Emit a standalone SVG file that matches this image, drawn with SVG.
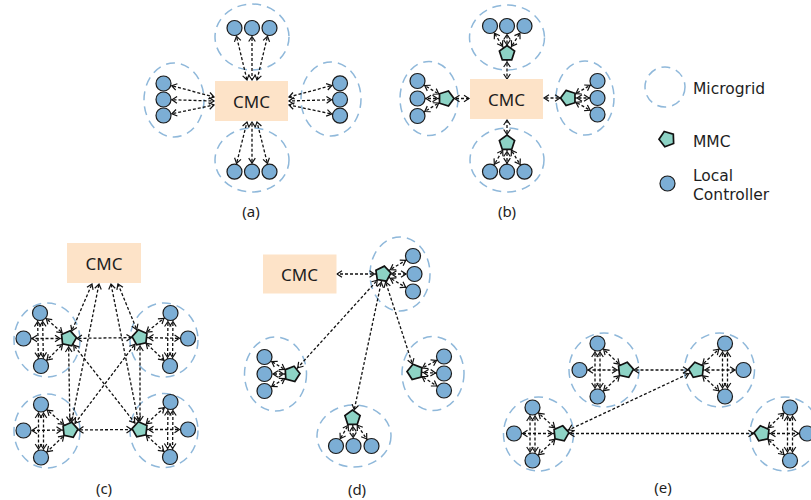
<svg xmlns="http://www.w3.org/2000/svg" width="811" height="500" viewBox="0 0 811 500">
<style>
.mg{fill:none;stroke:#8fb8da;stroke-width:1.5;stroke-dasharray:9 6}
.lc{fill:#7caed5;stroke:#1b1b1b;stroke-width:1.2}
.mmc{fill:#8dd3c5;stroke:#111;stroke-width:1.7;stroke-linejoin:miter}
.cmc{fill:#fde3c8}
.ln{fill:none;stroke:#111;stroke-width:1.3;stroke-dasharray:3 2;marker-start:url(#a);marker-end:url(#a)}
.ln.e0{marker-end:url(#b)}
text{font-family:"Noto Sans","Open Sans","DejaVu Sans",sans-serif;fill:#1e1e1e}
.t{font-size:17px;text-anchor:middle;dominant-baseline:central}
.cap{font-size:15px;text-anchor:middle}
.lg{font-family:"DejaVu Sans","Noto Sans",sans-serif;font-size:15.5px}
</style>
<defs>
  <!-- open arrowhead, tip held back from the node centre -->
  <marker id="a" markerUnits="userSpaceOnUse" viewBox="-14 -7 28 14" markerWidth="28" markerHeight="14" refX="8.5" refY="0" orient="auto-start-reverse">
    <path d="M-5,-3.3 L0,0 L-5,3.3" fill="none" stroke="#111" stroke-width="1.2"/>
  </marker>
  <!-- open arrowhead, tip at the line end (box edges) -->
  <marker id="b" markerUnits="userSpaceOnUse" viewBox="-14 -7 28 14" markerWidth="28" markerHeight="14" refX="0" refY="0" orient="auto-start-reverse">
    <path d="M-5,-3.3 L0,0 L-5,3.3" fill="none" stroke="#111" stroke-width="1.2"/>
  </marker>
  <polygon id="pg" points="0,-8 7.61,-2.47 4.70,6.47 -4.70,6.47 -7.61,-2.47"/>
</defs>

<!-- microgrid boundaries -->
<g id="microgrids">
  <ellipse id="mg-a-top" class="mg" cx="252" cy="37" rx="37" ry="33"/>
  <ellipse id="mg-a-left" class="mg" cx="174" cy="100" rx="30" ry="37"/>
  <ellipse id="mg-a-right" class="mg" cx="331" cy="99" rx="30" ry="37"/>
  <ellipse id="mg-a-bottom" class="mg" cx="252" cy="160" rx="37" ry="32"/>

  <ellipse id="mg-b-top" class="mg" cx="507" cy="37.5" rx="37.5" ry="32.5"/>
  <ellipse id="mg-b-left" class="mg" cx="429" cy="98.5" rx="29" ry="37"/>
  <ellipse id="mg-b-right" class="mg" cx="585" cy="98" rx="29" ry="37"/>
  <ellipse id="mg-b-bottom" class="mg" cx="507" cy="160" rx="37" ry="32"/>

  <ellipse id="mg-c-tl" class="mg" cx="47" cy="340" rx="33" ry="37"/>
  <ellipse id="mg-c-tr" class="mg" cx="164" cy="340" rx="34" ry="37"/>
  <ellipse id="mg-c-bl" class="mg" cx="47" cy="431" rx="33" ry="37"/>
  <ellipse id="mg-c-br" class="mg" cx="164" cy="430.5" rx="34" ry="37"/>

  <ellipse id="mg-d-top" class="mg" cx="400" cy="274" rx="30" ry="37"/>
  <ellipse id="mg-d-left" class="mg" cx="275.5" cy="374" rx="31" ry="37"/>
  <ellipse id="mg-d-right" class="mg" cx="433" cy="373.5" rx="31" ry="37"/>
  <ellipse id="mg-d-bottom" class="mg" cx="354" cy="436" rx="37" ry="31"/>

  <ellipse id="mg-e-tl" class="mg" cx="604" cy="370" rx="35" ry="37"/>
  <ellipse id="mg-e-tr" class="mg" cx="719.5" cy="370" rx="35" ry="37"/>
  <ellipse id="mg-e-bl" class="mg" cx="538.5" cy="434" rx="35" ry="37"/>
  <ellipse id="mg-e-br" class="mg" cx="785" cy="434" rx="35" ry="37"/>

  <circle id="mg-legend" class="mg" cx="665" cy="87" r="20"/>
</g>

<g id="connectors">
  <!-- (a) centralised -->
  <line class="ln e0" x1="234.5" y1="28" x2="247" y2="80"/>
  <line class="ln e0" x1="252" y1="28" x2="252" y2="80"/>
  <line class="ln e0" x1="269.5" y1="28" x2="257" y2="80"/>
  <line class="ln e0" x1="163.5" y1="83.5" x2="214" y2="97"/>
  <line class="ln e0" x1="163.5" y1="99.5" x2="214" y2="101"/>
  <line class="ln e0" x1="163.5" y1="115.5" x2="214" y2="105"/>
  <line class="ln e0" x1="340" y1="83.3" x2="289" y2="97"/>
  <line class="ln e0" x1="340" y1="99.5" x2="289" y2="101"/>
  <line class="ln e0" x1="340" y1="115.7" x2="289" y2="105"/>
  <line class="ln e0" x1="234.5" y1="171.7" x2="247" y2="122"/>
  <line class="ln e0" x1="252" y1="171.7" x2="252" y2="122"/>
  <line class="ln e0" x1="269.5" y1="171.7" x2="257" y2="122"/>

  <!-- (b) hierarchical -->
  <line class="ln" x1="507" y1="53.5" x2="490" y2="26"/>
  <line class="ln" x1="507" y1="53.5" x2="507" y2="26"/>
  <line class="ln" x1="507" y1="53.5" x2="524.5" y2="26"/>
  <line class="ln e0" x1="507" y1="53.5" x2="507" y2="79"/>
  <line class="ln" x1="446" y1="98.5" x2="417.5" y2="81"/>
  <line class="ln" x1="446" y1="98.5" x2="417.5" y2="98.5"/>
  <line class="ln" x1="446" y1="98.5" x2="417.5" y2="116"/>
  <line class="ln e0" x1="446" y1="98.5" x2="469" y2="98.5"/>
  <line class="ln" x1="568.5" y1="98" x2="597.5" y2="81"/>
  <line class="ln" x1="568.5" y1="98" x2="597.5" y2="98"/>
  <line class="ln" x1="568.5" y1="98" x2="597.5" y2="114.5"/>
  <line class="ln e0" x1="568.5" y1="98" x2="544" y2="98"/>
  <line class="ln" x1="507" y1="143" x2="490" y2="171.7"/>
  <line class="ln" x1="507" y1="143" x2="507" y2="171.7"/>
  <line class="ln" x1="507" y1="143" x2="524.5" y2="171.7"/>
  <line class="ln e0" x1="507" y1="143" x2="507" y2="120"/>

  <!-- (c) inside each microgrid -->
  <line class="ln" x1="68.5" y1="338.5" x2="40" y2="313"/>
  <line class="ln" x1="68.5" y1="338.5" x2="23.5" y2="338.5"/>
  <line class="ln" x1="68.5" y1="338.5" x2="41" y2="366"/>
  <line class="ln" x1="37.5" y1="313" x2="38.5" y2="366"/>
  <line class="ln" x1="42.5" y1="313" x2="43.5" y2="366"/>
  <line class="ln" x1="140" y1="337.5" x2="170.5" y2="313"/>
  <line class="ln" x1="140" y1="337.5" x2="188" y2="338.5"/>
  <line class="ln" x1="140" y1="337.5" x2="170" y2="366"/>
  <line class="ln" x1="168" y1="313" x2="167.5" y2="366"/>
  <line class="ln" x1="173" y1="313" x2="172.5" y2="366"/>
  <line class="ln" x1="70" y1="430" x2="41" y2="404.5"/>
  <line class="ln" x1="70" y1="430" x2="23.5" y2="430.5"/>
  <line class="ln" x1="70" y1="430" x2="41" y2="457.5"/>
  <line class="ln" x1="38.5" y1="404.5" x2="38.5" y2="457.5"/>
  <line class="ln" x1="43.5" y1="404.5" x2="43.5" y2="457.5"/>
  <line class="ln" x1="140" y1="429.5" x2="170.5" y2="402"/>
  <line class="ln" x1="140" y1="429.5" x2="188" y2="429.5"/>
  <line class="ln" x1="140" y1="429.5" x2="170" y2="457"/>
  <line class="ln" x1="168" y1="402" x2="167.5" y2="457"/>
  <line class="ln" x1="173" y1="402" x2="172.5" y2="457"/>
  <!-- (c) between MMCs and to the CMC -->
  <line class="ln" x1="68.5" y1="338.5" x2="140" y2="337.5"/>
  <line class="ln" x1="70" y1="430" x2="140" y2="429.5"/>
  <line class="ln" x1="68.5" y1="338.5" x2="70" y2="430"/>
  <line class="ln" x1="140" y1="337.5" x2="140" y2="429.5"/>
  <line class="ln" x1="68.5" y1="338.5" x2="140" y2="429.5"/>
  <line class="ln" x1="140" y1="337.5" x2="70" y2="430"/>
  <line class="ln e0" x1="68.5" y1="338.5" x2="92" y2="284"/>
  <line class="ln e0" x1="70" y1="430" x2="99" y2="284"/>
  <line class="ln e0" x1="140" y1="429.5" x2="111" y2="284"/>
  <line class="ln e0" x1="140" y1="337.5" x2="118" y2="284"/>

  <!-- (d) -->
  <line class="ln" x1="383" y1="274" x2="413" y2="256"/>
  <line class="ln" x1="383" y1="274" x2="414.5" y2="274"/>
  <line class="ln" x1="383" y1="274" x2="413" y2="291.5"/>
  <line class="ln e0" x1="383" y1="274" x2="337" y2="274"/>
  <line class="ln" x1="292" y1="374" x2="264.5" y2="357"/>
  <line class="ln" x1="292" y1="374" x2="264.5" y2="374"/>
  <line class="ln" x1="292" y1="374" x2="264.5" y2="391"/>
  <line class="ln" x1="415" y1="372" x2="444" y2="356.5"/>
  <line class="ln" x1="415" y1="372" x2="444" y2="373.5"/>
  <line class="ln" x1="415" y1="372" x2="444" y2="390.5"/>
  <line class="ln" x1="352.5" y1="418" x2="336" y2="446"/>
  <line class="ln" x1="352.5" y1="418" x2="353.5" y2="446"/>
  <line class="ln" x1="352.5" y1="418" x2="371.5" y2="446"/>
  <line class="ln" x1="383" y1="274" x2="292" y2="374"/>
  <line class="ln" x1="383" y1="274" x2="352.5" y2="418"/>
  <line class="ln" x1="383" y1="274" x2="415" y2="372"/>

  <!-- (e) inside each microgrid -->
  <line class="ln" x1="625.5" y1="370" x2="597.5" y2="343.5"/>
  <line class="ln" x1="625.5" y1="370" x2="579.5" y2="370"/>
  <line class="ln" x1="625.5" y1="370" x2="597.5" y2="396.5"/>
  <line class="ln" x1="595" y1="343.5" x2="595" y2="396.5"/>
  <line class="ln" x1="600" y1="343.5" x2="600" y2="396.5"/>
  <line class="ln" x1="696.5" y1="370" x2="725" y2="343.5"/>
  <line class="ln" x1="696.5" y1="370" x2="743.5" y2="370"/>
  <line class="ln" x1="696.5" y1="370" x2="725" y2="396.5"/>
  <line class="ln" x1="722.5" y1="343.5" x2="722.5" y2="396.5"/>
  <line class="ln" x1="727.5" y1="343.5" x2="727.5" y2="396.5"/>
  <line class="ln" x1="561" y1="433.5" x2="532.5" y2="407.5"/>
  <line class="ln" x1="561" y1="433.5" x2="514" y2="433.5"/>
  <line class="ln" x1="561" y1="433.5" x2="532.5" y2="460.5"/>
  <line class="ln" x1="530" y1="407.5" x2="530" y2="460.5"/>
  <line class="ln" x1="535" y1="407.5" x2="535" y2="460.5"/>
  <line class="ln" x1="762" y1="433.5" x2="790" y2="407.5"/>
  <line class="ln" x1="762" y1="433.5" x2="807" y2="433.5"/>
  <line class="ln" x1="762" y1="433.5" x2="790" y2="460.5"/>
  <line class="ln" x1="787.5" y1="407.5" x2="787.5" y2="460.5"/>
  <line class="ln" x1="792.5" y1="407.5" x2="792.5" y2="460.5"/>
  <!-- (e) between MMCs -->
  <line class="ln" x1="625.5" y1="370" x2="696.5" y2="370"/>
  <line class="ln" x1="696.5" y1="370" x2="561" y2="433.5"/>
  <line class="ln" x1="561" y1="433.5" x2="762" y2="433.5"/>
</g>

<!-- central microgrid controllers -->
<g id="cmc-a"><rect class="cmc" x="215" y="81" width="73" height="40"/><text class="t" x="251.5" y="101">CMC</text></g>
<g id="cmc-b"><rect class="cmc" x="470" y="79" width="73" height="40"/><text class="t" x="506.5" y="99">CMC</text></g>
<g id="cmc-c"><rect class="cmc" x="67" y="243" width="74" height="40"/><text class="t" x="104" y="263">CMC</text></g>
<g id="cmc-d"><rect class="cmc" x="263" y="254.5" width="73.5" height="39"/><text class="t" x="299.5" y="274">CMC</text></g>

<!-- local controllers -->
<g id="local-controllers">
  <g id="lc-a"><circle class="lc" cx="234.5" cy="28" r="7.5"/><circle class="lc" cx="252" cy="28" r="7.5"/><circle class="lc" cx="269.5" cy="28" r="7.5"/>
    <circle class="lc" cx="163.5" cy="83.5" r="7.5"/><circle class="lc" cx="163.5" cy="99.5" r="7.5"/><circle class="lc" cx="163.5" cy="115.5" r="7.5"/>
    <circle class="lc" cx="340" cy="83.3" r="7.5"/><circle class="lc" cx="340" cy="99.5" r="7.5"/><circle class="lc" cx="340" cy="115.7" r="7.5"/>
    <circle class="lc" cx="234.5" cy="171.7" r="7.5"/><circle class="lc" cx="252" cy="171.7" r="7.5"/><circle class="lc" cx="269.5" cy="171.7" r="7.5"/></g>
  <g id="lc-b"><circle class="lc" cx="490" cy="26" r="7.5"/><circle class="lc" cx="507" cy="26" r="7.5"/><circle class="lc" cx="524.5" cy="26" r="7.5"/>
    <circle class="lc" cx="417.5" cy="81" r="7.5"/><circle class="lc" cx="417.5" cy="98.5" r="7.5"/><circle class="lc" cx="417.5" cy="116" r="7.5"/>
    <circle class="lc" cx="597.5" cy="81" r="7.5"/><circle class="lc" cx="597.5" cy="98" r="7.5"/><circle class="lc" cx="597.5" cy="114.5" r="7.5"/>
    <circle class="lc" cx="490" cy="171.7" r="7.5"/><circle class="lc" cx="507" cy="171.7" r="7.5"/><circle class="lc" cx="524.5" cy="171.7" r="7.5"/></g>
  <g id="lc-c"><circle class="lc" cx="40" cy="313" r="7.5"/><circle class="lc" cx="23.5" cy="338.5" r="7.5"/><circle class="lc" cx="41" cy="366" r="7.5"/>
    <circle class="lc" cx="170.5" cy="313" r="7.5"/><circle class="lc" cx="188" cy="338.5" r="7.5"/><circle class="lc" cx="170" cy="366" r="7.5"/>
    <circle class="lc" cx="41" cy="404.5" r="7.5"/><circle class="lc" cx="23.5" cy="430.5" r="7.5"/><circle class="lc" cx="41" cy="457.5" r="7.5"/>
    <circle class="lc" cx="170.5" cy="402" r="7.5"/><circle class="lc" cx="188" cy="429.5" r="7.5"/><circle class="lc" cx="170" cy="457" r="7.5"/></g>
  <g id="lc-d"><circle class="lc" cx="413" cy="256" r="7.5"/><circle class="lc" cx="414.5" cy="274" r="7.5"/><circle class="lc" cx="413" cy="291.5" r="7.5"/>
    <circle class="lc" cx="264.5" cy="357" r="7.5"/><circle class="lc" cx="264.5" cy="374" r="7.5"/><circle class="lc" cx="264.5" cy="391" r="7.5"/>
    <circle class="lc" cx="444" cy="356.5" r="7.5"/><circle class="lc" cx="444" cy="373.5" r="7.5"/><circle class="lc" cx="444" cy="390.5" r="7.5"/>
    <circle class="lc" cx="336" cy="446" r="7.5"/><circle class="lc" cx="353.5" cy="446" r="7.5"/><circle class="lc" cx="371.5" cy="446" r="7.5"/></g>
  <g id="lc-e"><circle class="lc" cx="597.5" cy="343.5" r="7.5"/><circle class="lc" cx="579.5" cy="370" r="7.5"/><circle class="lc" cx="597.5" cy="396.5" r="7.5"/>
    <circle class="lc" cx="725" cy="343.5" r="7.5"/><circle class="lc" cx="743.5" cy="370" r="7.5"/><circle class="lc" cx="725" cy="396.5" r="7.5"/>
    <circle class="lc" cx="532.5" cy="407.5" r="7.5"/><circle class="lc" cx="514" cy="433.5" r="7.5"/><circle class="lc" cx="532.5" cy="460.5" r="7.5"/>
    <circle class="lc" cx="790" cy="407.5" r="7.5"/><circle class="lc" cx="807" cy="433.5" r="7.5"/><circle class="lc" cx="790" cy="460.5" r="7.5"/></g>
</g>

<!-- microgrid management controllers -->
<g id="mmcs">
  <use id="mmc-b-top" class="mmc" href="#pg" transform="translate(507 53.5)"/>
  <use id="mmc-b-left" class="mmc" href="#pg" transform="translate(446 98.5) rotate(18)"/>
  <use id="mmc-b-right" class="mmc" href="#pg" transform="translate(568.5 98) rotate(-18)"/>
  <use id="mmc-b-bottom" class="mmc" href="#pg" transform="translate(507 143)"/>
  <use id="mmc-c-tl" class="mmc" href="#pg" transform="translate(68.5 338.5) rotate(12)"/>
  <use id="mmc-c-tr" class="mmc" href="#pg" transform="translate(140 337.5) rotate(-12)"/>
  <use id="mmc-c-bl" class="mmc" href="#pg" transform="translate(70 430) rotate(12)"/>
  <use id="mmc-c-br" class="mmc" href="#pg" transform="translate(140 429.5) rotate(-12)"/>
  <use id="mmc-d-top" class="mmc" href="#pg" transform="translate(383 274) rotate(10)"/>
  <use id="mmc-d-left" class="mmc" href="#pg" transform="translate(292 374) rotate(15)"/>
  <use id="mmc-d-right" class="mmc" href="#pg" transform="translate(415 372) rotate(-15)"/>
  <use id="mmc-d-bottom" class="mmc" href="#pg" transform="translate(352.5 418)"/>
  <use id="mmc-e-tl" class="mmc" href="#pg" transform="translate(625.5 370) rotate(12)"/>
  <use id="mmc-e-tr" class="mmc" href="#pg" transform="translate(696.5 370) rotate(-12)"/>
  <use id="mmc-e-bl" class="mmc" href="#pg" transform="translate(561 433.5) rotate(12)"/>
  <use id="mmc-e-br" class="mmc" href="#pg" transform="translate(762 433.5) rotate(-12)"/>
</g>

<!-- legend -->
<g id="legend">
  <text class="lg" x="693" y="94">Microgrid</text>
  <use id="mmc-legend" class="mmc" href="#pg" transform="translate(667 139) rotate(-20)"/>
  <text class="lg" x="693" y="146.5">MMC</text>
  <circle id="lc-legend" class="lc" cx="667.5" cy="183.5" r="7.5"/>
  <text class="lg" x="693" y="181">Local</text>
  <text class="lg" x="693" y="199.5">Controller</text>
</g>

<g id="captions">
  <text class="cap" x="251" y="217">(a)</text>
  <text class="cap" x="507" y="217">(b)</text>
  <text class="cap" x="104" y="494">(c)</text>
  <text class="cap" x="357" y="495">(d)</text>
  <text class="cap" x="663" y="493">(e)</text>
</g>
</svg>
